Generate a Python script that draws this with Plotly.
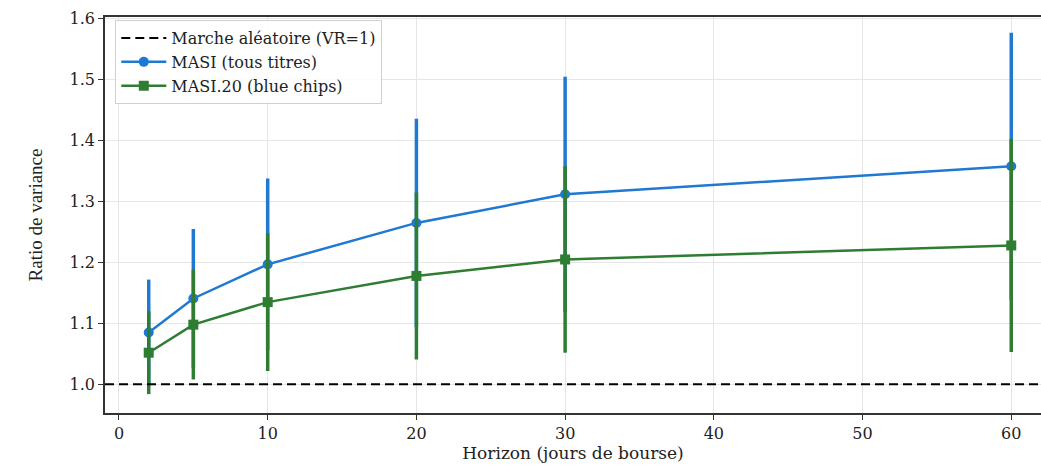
import plotly.graph_objects as go

horizons = [2, 5, 10, 20, 30, 60]
masi_vr = [1.085, 1.141, 1.197, 1.265, 1.312, 1.358]
masi_err = [0.087, 0.114, 0.141, 0.171, 0.193, 0.219]
masi20_vr = [1.052, 1.098, 1.135, 1.178, 1.205, 1.228]
masi20_err = [0.068, 0.090, 0.113, 0.137, 0.153, 0.175]
random_walk_vr = 1.0

BLUE = "#1f78d1"
GREEN = "#2e7d32"
SERIF = "DejaVu Serif"

fig = go.Figure()

fig.add_hline(y=random_walk_vr, line=dict(color="black", width=2, dash="9px,5px"), layer="above")

fig.add_trace(go.Scatter(
    x=[None], y=[None], mode="lines", name="Marche aléatoire (VR=1)",
    line=dict(color="black", width=2, dash="9px,5px"),
))
fig.add_trace(go.Scatter(
    x=horizons, y=masi_vr, mode="lines+markers", name="MASI (tous titres)",
    line=dict(color=BLUE, width=2.5),
    marker=dict(symbol="circle", size=10, color=BLUE),
    error_y=dict(type="data", array=masi_err, visible=True, color=BLUE, thickness=3.5, width=0),
))
fig.add_trace(go.Scatter(
    x=horizons, y=masi20_vr, mode="lines+markers", name="MASI.20 (blue chips)",
    line=dict(color=GREEN, width=2.5),
    marker=dict(symbol="square", size=10, color=GREEN),
    error_y=dict(type="data", array=masi20_err, visible=True, color=GREEN, thickness=3.5, width=0),
))

fig.update_layout(
    width=1041, height=465,
    margin=dict(l=105, r=0, t=17, b=52),
    paper_bgcolor="white", plot_bgcolor="white",
    font=dict(family=SERIF, size=16, color="#222"),
    showlegend=True,
    legend=dict(
        x=0.011, y=0.992, xanchor="left", yanchor="top",
        bgcolor="rgba(255,255,255,0.85)", bordercolor="#d0d0d0", borderwidth=1,
        font=dict(family=SERIF, size=16, color="#222"),
        tracegroupgap=0, itemwidth=45,
    ),
)

fig.update_xaxes(
    range=[-0.94, 62.0], tickvals=[0, 10, 20, 30, 40, 50, 60],
    showgrid=True, gridcolor="#e6e6e6", gridwidth=1,
    showline=True, linecolor="#333", linewidth=1.5, mirror=True,
    ticks="outside", ticklen=5, tickcolor="#333",
    tickfont=dict(family=SERIF, size=16, color="#222"),
    title=dict(text="Horizon (jours de bourse)", font=dict(family=SERIF, size=17, color="#222"), standoff=3),
    zeroline=False,
)
fig.update_yaxes(
    range=[0.953, 1.603], tickvals=[1.0, 1.1, 1.2, 1.3, 1.4, 1.5, 1.6],
    ticktext=["1.0", "1.1", "1.2", "1.3", "1.4", "1.5", "1.6"],
    showgrid=True, gridcolor="#e6e6e6", gridwidth=1,
    showline=True, linecolor="#333", linewidth=1.5,
    ticks="outside", ticklen=5, tickcolor="#333",
    tickfont=dict(family=SERIF, size=16, color="#222"),
    title=dict(text="Ratio de variance", font=dict(family="Liberation Serif", size=19, color="#222"), standoff=22),
    zeroline=False,
)

fig.write_html("out.html")
